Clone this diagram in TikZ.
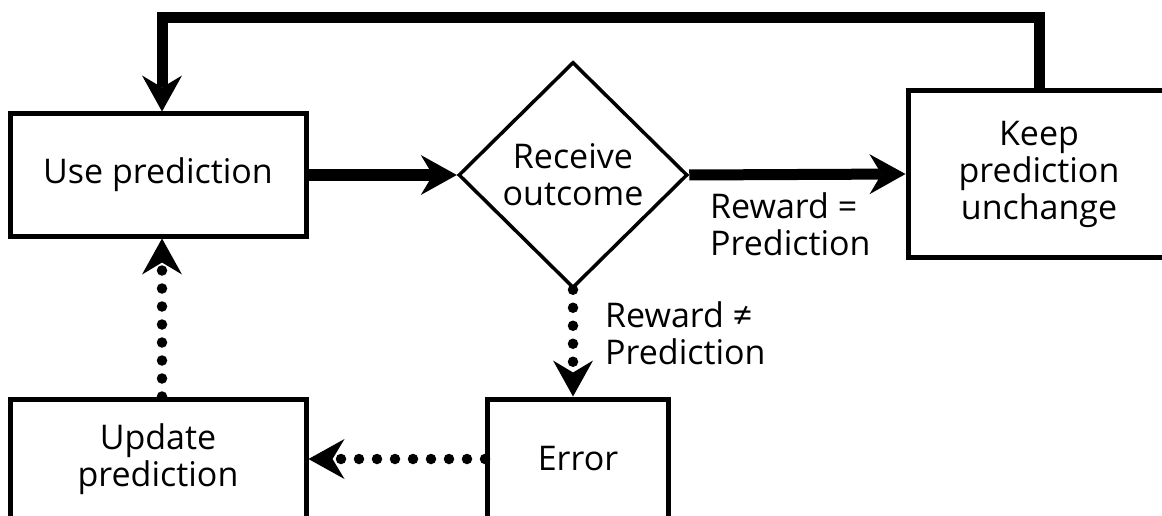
\documentclass[tikz,border=0pt]{standalone}
\usepackage{fontspec}
\setmainfont{Open Sans}
\usepackage{tikz}
\usetikzlibrary{arrows.meta,shapes.geometric,positioning}
\tikzset{
  flowtext/.style={font=\fontsize{34}{37}\selectfont, align=center},
  flowbox/.style={flowtext, draw, rectangle, line width=5pt, inner sep=0pt},
  decisionbox/.style={flowtext, draw, diamond, line width=3.5pt, inner sep=0pt,
    minimum width=229pt, minimum height=226pt},
  flowlabel/.style={font=\fontsize{34}{37}\selectfont, align=left, anchor=west, inner sep=0pt},
  bigtip/.style={-{Stealth[length=36pt,width=40pt,inset=12pt,line width=0pt]}},
  thickarrow/.style={bigtip, line width=11pt},
  dotarrow/.style={bigtip, line width=10.5pt, line cap=round, dash pattern=on 0pt off 18pt},
}

\begin{document}
\begin{tikzpicture}[x=1pt, y=-1pt]
  \clip (0,0) rectangle (1162,516);
  \node[flowbox, minimum width=296pt, minimum height=122pt] (use) at (158,175) {Use prediction};
  \node[decisionbox] (recv) at (573,175) {Receive\\outcome};
  \node[flowbox, minimum width=262pt, minimum height=166pt] (keep) at (1039,174) {Keep\\prediction\\unchange};
  \node[flowbox, minimum width=181pt, minimum height=120pt] (error) at (578,459) {Error};
  \node[flowbox, minimum width=296pt, minimum height=120pt] (update) at (158,459) {Update\\prediction};
  \coordinate (top) at (0,18);

  \draw[thickarrow] (use.east) -- (recv.west);
  \draw[thickarrow] (recv.east) -- (keep.west);
  \draw[thickarrow] (keep.north) |- ([xshift=4pt]use.north |- top) -- ([xshift=4pt]use.north);
  \draw[dotarrow] (recv.south) -- (recv.south |- error.north);
  \draw[dotarrow] (error.west) -- (update.east);
  \draw[dotarrow] ([xshift=4pt]update.north) -- ([xshift=4pt]use.south);

  \node[flowlabel] (eqlabel) at (710,224) {Reward =\\Prediction};
  \node[flowlabel] (nelabel) at (605,333) {Reward ≠\\Prediction};
\end{tikzpicture}
\end{document}
